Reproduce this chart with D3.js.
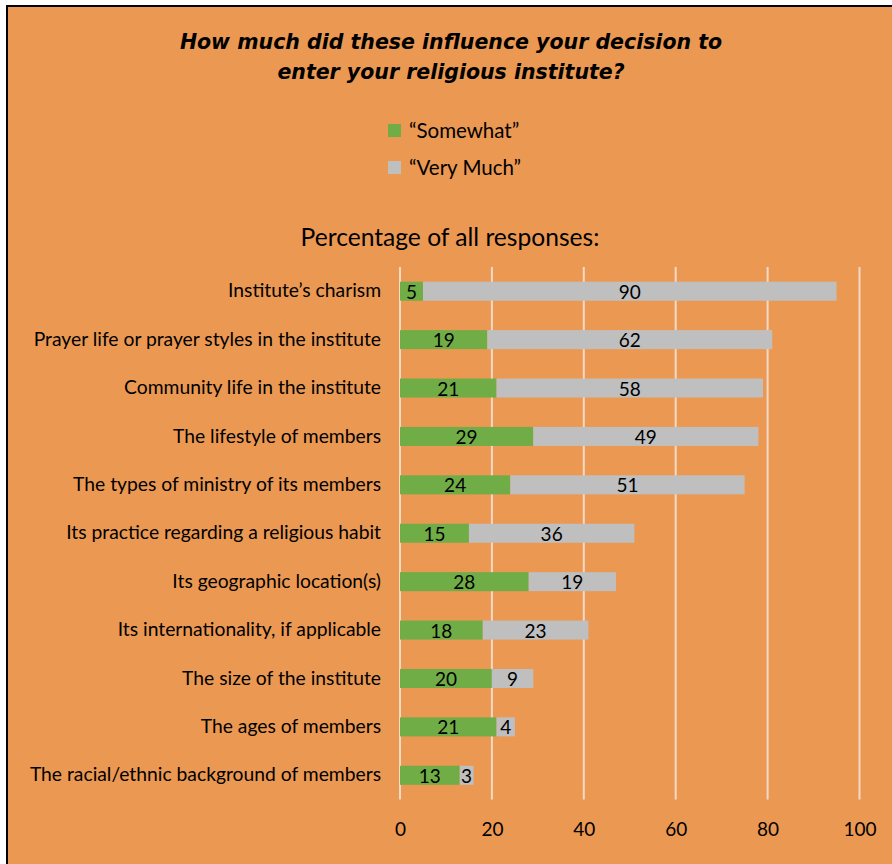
<!DOCTYPE html>
<html>
<head>
<meta charset="utf-8">
<script src="https://cdn.jsdelivr.net/npm/d3@7"></script>
<style>
  body { margin: 0; background: #fff; }
  svg { display: block; }
</style>
</head>
<body>
<script>
// chart data
let categories = [
  'Institute’s charism',
  'Prayer life or prayer styles in the institute',
  'Community life in the institute',
  'The lifestyle of members',
  'The types of ministry of its members',
  'Its practice regarding a religious habit',
  'Its geographic location(s)',
  'Its internationality, if applicable',
  'The size of the institute',
  'The ages of members',
  'The racial/ethnic background of members'
]
let somewhat = [5, 19, 21, 29, 24, 15, 28, 18, 20, 21, 13]
let veryMuch = [90, 62, 58, 49, 51, 36, 19, 23, 9, 4, 3]
let xTicks = [0, 20, 40, 60, 80, 100]
let seriesNames = ['“Somewhat”', '“Very Much”']

// measurements
let m = {
  width: 892,
  height: 864,
  left: 400,
  right: 859.5,
  top: 267,
  bottom: 799.5
}
let colors = { bg: '#EB9853', green: '#70AD47', gray: '#BFBFBF', grid: '#F3D9C6' }
let labelFont = 'Lato, "Open Sans", sans-serif'

let svg = d3.select('body')
  .append('svg')
  .attr('width', m.width)
  .attr('height', m.height)

// background + border
svg.append('rect')
  .attr('x', 7).attr('y', 6)
  .attr('width', m.width).attr('height', m.height)
  .attr('fill', colors.bg)
  .attr('stroke', '#000')
  .attr('stroke-width', 2)

// title
let title = svg.append('text')
  .attr('text-anchor', 'middle')
  .attr('font-family', '"DejaVu Sans", sans-serif')
  .attr('font-style', 'italic')
  .attr('font-weight', 'bold')
  .attr('font-size', 20.5)
  .attr('fill', '#000')
title.append('tspan').attr('x', 451).attr('y', 49).text('How much did these influence your decision to')
title.append('tspan').attr('x', 451).attr('y', 79).text('enter your religious institute?')

// legend
let legend = svg.selectAll('.legend')
  .data(seriesNames)
  .enter()
  .append('g')
  .attr('transform', function(d, i) { return 'translate(388,' + (124 + i * 37) + ')' })
legend.append('rect')
  .attr('width', 13).attr('height', 13)
  .attr('fill', function(d, i) { return i == 0 ? colors.green : colors.gray })
legend.append('text')
  .attr('x', 21).attr('y', 14)
  .attr('font-family', labelFont)
  .attr('font-size', 20.5)
  .text(function(d) { return d })

// subtitle
svg.append('text')
  .attr('x', 450).attr('y', 246)
  .attr('text-anchor', 'middle')
  .attr('font-family', labelFont)
  .attr('font-size', 24.6)
  .text('Percentage of all responses:')

// scales
let xScale = d3.scaleLinear()
  .domain([0, 100])
  .range([m.left, m.right])

let yScale = d3.scaleBand()
  .domain(categories)
  .range([m.top, m.bottom])
  .paddingInner(0.607)
  .paddingOuter(0.3035)

// gridlines
svg.append('g')
  .selectAll('line')
  .data(xTicks)
  .enter()
  .append('line')
    .attr('x1', function(d) { return xScale(d) })
    .attr('x2', function(d) { return xScale(d) })
    .attr('y1', m.top)
    .attr('y2', m.bottom)
    .attr('stroke', colors.grid)
    .attr('stroke-width', 2)

// x axis labels
let xAxis = d3.axisBottom(xScale)
  .tickValues(xTicks)
  .tickSize(0)
  .tickPadding(23)
let xg = svg.append('g')
  .attr('transform', 'translate(0,' + m.bottom + ')')
  .call(xAxis)
xg.select('.domain').remove()
xg.selectAll('text')
  .attr('font-family', labelFont)
  .attr('font-size', 19)
  .attr('fill', '#000')

// y axis labels
let yAxis = d3.axisLeft(yScale).tickSize(0).tickPadding(19)
let yg = svg.append('g')
  .attr('transform', 'translate(' + m.left + ',0)')
  .call(yAxis)
yg.select('.domain').remove()
yg.selectAll('text')
  .attr('font-family', labelFont)
  .attr('font-size', 19.3)
  .attr('fill', '#000')

// bars
let rows = categories.map(function(c, i) {
  return { cat: c, s: somewhat[i], v: veryMuch[i] }
})

let bars = svg.append('g')
  .selectAll('g')
  .data(rows)
  .enter()
  .append('g')

bars.append('rect')
  .attr('x', function(d) { return xScale(0) })
  .attr('y', function(d) { return yScale(d.cat) })
  .attr('width', function(d) { return xScale(d.s) - xScale(0) })
  .attr('height', yScale.bandwidth())
  .attr('fill', colors.green)

bars.append('rect')
  .attr('x', function(d) { return xScale(d.s) })
  .attr('y', function(d) { return yScale(d.cat) })
  .attr('width', function(d) { return xScale(d.s + d.v) - xScale(d.s) })
  .attr('height', yScale.bandwidth())
  .attr('fill', colors.gray)

// value labels
bars.append('text')
  .attr('x', function(d) { return xScale(d.s / 2) })
  .attr('y', function(d) { return yScale(d.cat) + yScale.bandwidth() / 2 })
  .attr('dy', '0.4em')
  .attr('text-anchor', 'middle')
  .attr('font-family', labelFont)
  .attr('font-size', 19)
  .text(function(d) { return d.s })

bars.append('text')
  .attr('x', function(d) { return xScale(d.s + d.v / 2) })
  .attr('y', function(d) { return yScale(d.cat) + yScale.bandwidth() / 2 })
  .attr('dy', '0.4em')
  .attr('text-anchor', 'middle')
  .attr('font-family', labelFont)
  .attr('font-size', 19)
  .text(function(d) { return d.v })
</script>
</body>
</html>
